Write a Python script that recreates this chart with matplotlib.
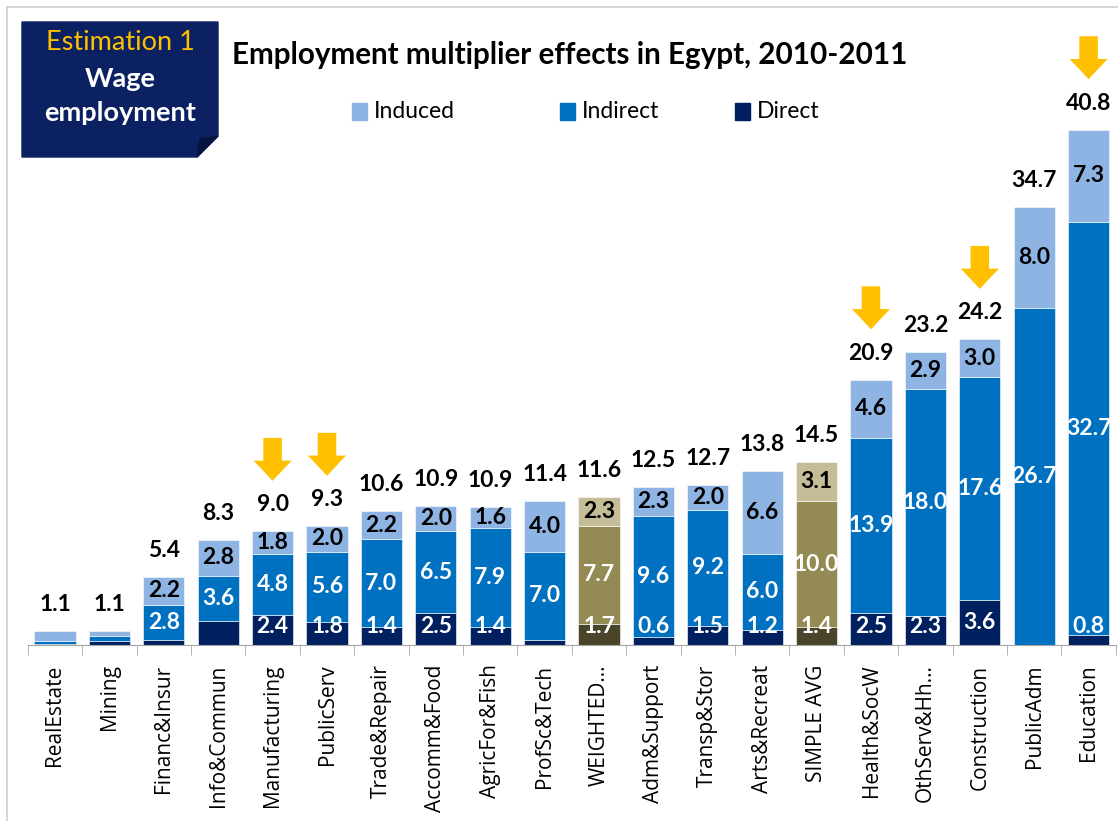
import matplotlib.pyplot as plt
import numpy as np
from matplotlib.patches import Polygon, Rectangle, FancyArrow
from matplotlib.lines import Line2D

# sectors, sorted by total multiplier
sectors = ["RealEstate", "Mining", "Financ&Insur", "Info&Commun", "Manufacturing",
           "PublicServ", "Trade&Repair", "Accomm&Food", "AgricFor&Fish", "ProfSc&Tech",
           "WEIGHTED\u2026", "Adm&Support", "Transp&Stor", "Arts&Recreat", "SIMPLE AVG",
           "Health&SocW", "OthServ&Hh\u2026", "Construction", "PublicAdm", "Education"]
direct = [0.1, 0.3, 0.4, 1.9, 2.4, 1.8, 1.4, 2.5, 1.4, 0.4,
          1.7, 0.6, 1.5, 1.2, 1.4, 2.5, 2.3, 3.6, 0.0, 0.8]
indirect = [0.2, 0.4, 2.8, 3.6, 4.8, 5.6, 7.0, 6.5, 7.9, 7.0,
            7.7, 9.6, 9.2, 6.0, 10.0, 13.9, 18.0, 17.6, 26.7, 32.7]
induced = [0.8, 0.4, 2.2, 2.8, 1.8, 2.0, 2.2, 2.0, 1.6, 4.0,
           2.3, 2.3, 2.0, 6.6, 3.1, 4.6, 2.9, 3.0, 8.0, 7.3]
totals = [1.1, 1.1, 5.4, 8.3, 9.0, 9.3, 10.6, 10.9, 10.9, 11.4,
          11.6, 12.5, 12.7, 13.8, 14.5, 20.9, 23.2, 24.2, 34.7, 40.8]

# which segment values carry a label on the chart
direct_labelled = ["Manufacturing", "PublicServ", "Trade&Repair", "Accomm&Food",
                   "AgricFor&Fish", "WEIGHTED\u2026", "Adm&Support", "Transp&Stor",
                   "Arts&Recreat", "SIMPLE AVG", "Health&SocW", "OthServ&Hh\u2026",
                   "Construction", "Education"]
no_segment_labels = ["RealEstate", "Mining"]
averages = ["WEIGHTED\u2026", "SIMPLE AVG"]
highlighted = ["Manufacturing", "PublicServ", "Health&SocW", "Construction", "Education"]
legend_names = ["Induced", "Indirect", "Direct"]

c_ind = "#8EB4E3"
c_mid = "#0070C0"
c_dir = "#002060"
o_ind = "#C4BD97"
o_mid = "#948A54"
o_dir = "#4A452A"
gold = "#FFC000"

W, H = 1118, 821
fig = plt.figure(figsize=(W / 100, H / 100), dpi=100)

# main axes (pixel box: x 27.8..1116, y 25..645)
ax = fig.add_axes([27.8 / W, (H - 645) / H, 1088 / W, 620 / H])
x = np.arange(len(sectors))
ymax = 620 / 12.63
ax.set_xlim(-0.5, len(sectors) - 0.5)
ax.set_ylim(0, ymax)

for i, s in enumerate(sectors):
    avg = s in averages
    cols = (o_dir, o_mid, o_ind) if avg else (c_dir, c_mid, c_ind)
    d, m, u = direct[i], indirect[i], induced[i]
    ax.bar(i, d, 0.76, color=cols[0], edgecolor="white", linewidth=0.4)
    ax.bar(i, m, 0.76, bottom=d, color=cols[1], edgecolor="white", linewidth=0.4)
    ax.bar(i, u, 0.76, bottom=d + m, color=cols[2], edgecolor="white", linewidth=0.4)

    lab = dict(ha="center", va="center", fontsize=16.5, fontweight="bold", family="Lato")
    if s not in no_segment_labels:
        ax.text(i, d + m + u / 2, f"{u:.1f}", color="black", **lab)
        ax.text(i, d + m / 2, f"{m:.1f}", color="white", **lab)
    if s in direct_labelled:
        ax.text(i, max(d / 2, 1.45), f"{d:.1f}", color="white", **lab)
    ax.annotate(f"{totals[i]:.1f}", (i, d + m + u), xytext=(0, 19),
                textcoords="offset points", **lab)
    if s in highlighted:
        tip = d + m + u + 4.0
        ax.add_patch(FancyArrow(i, tip + 3.4, 0, -3.4, width=0.34, head_width=0.7,
                                head_length=1.6, length_includes_head=True,
                                color=gold, lw=0))

for sp in ["top", "right", "left"]:
    ax.spines[sp].set_visible(False)
ax.spines["bottom"].set_color("#A6A6A6")
ax.set_yticks([])
ax.set_xticks(x)
ax.set_xticklabels(sectors, rotation=90, fontsize=15, family="Open Sans", va="top")
ax.tick_params(axis="x", which="major", length=0, pad=14)
ax.set_xticks(np.arange(-0.5, len(sectors)), minor=True)
ax.tick_params(axis="x", which="minor", length=7, color="#A6A6A6")

# overlay in pixel coords for the frame, the label box, title and legend
ov = fig.add_axes([0, 0, 1, 1], zorder=-1)
ov.set_xlim(0, W)
ov.set_ylim(H, 0)
ov.axis("off")
ov.add_line(Line2D([7, 7], [7, H], color="#D0D0D0", lw=1.2))
ov.add_line(Line2D([7, W], [7, 7], color="#D0D0D0", lw=1.2))

ov2 = fig.add_axes([0, 0, 1, 1])
ov2.set_xlim(0, W)
ov2.set_ylim(H, 0)
ov2.axis("off")
ov2.add_patch(Polygon([(22, 22), (218, 22), (218, 136), (197, 157), (22, 157)],
                      closed=True, color="#0B2161"))
ov2.add_patch(Polygon([(197, 157), (218, 136), (200, 139)], closed=True, color="#06143F"))
ov2.text(120, 42, "Estimation 1", color=gold, fontsize=19.5, family="Lato",
         ha="center", va="center")
ov2.text(120, 79, "Wage", color="white", fontsize=19.5, family="Lato",
         fontweight="bold", ha="center", va="center")
ov2.text(120, 113, "employment", color="white", fontsize=19.5, family="Lato",
         fontweight="bold", ha="center", va="center")
ov2.text(232, 55, "Employment multiplier effects in Egypt, 2010-2011", fontsize=21.3,
         family="Lato", fontweight="bold", ha="left", va="center")

# legend entries placed like the original
for name, col, px in zip(legend_names, (c_ind, c_mid, c_dir), (352, 560, 735)):
    ov2.add_patch(Rectangle((px, 103), 15, 17, color=col))
    ov2.text(px + 22, 112, name, fontsize=16.5, family="Lato", ha="left", va="center")

fig.savefig("out.png", dpi=100)
